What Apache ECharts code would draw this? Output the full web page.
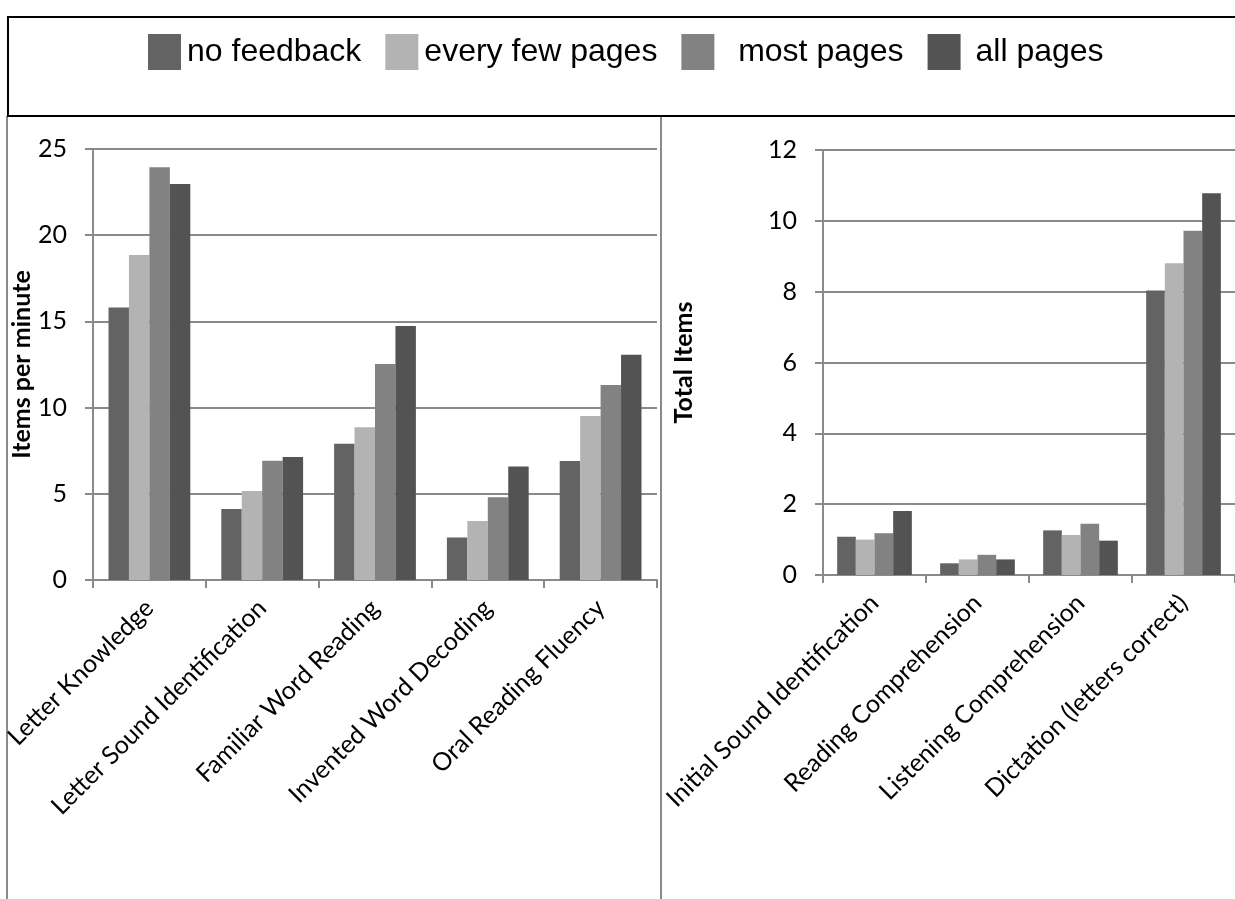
<!DOCTYPE html>
<html>
<head>
<meta charset="utf-8">
<script src="https://cdn.jsdelivr.net/npm/echarts@6/dist/echarts.min.js"></script>
<style>
html, body { margin: 0; padding: 0; background: #ffffff; }
#chart { width: 1235px; height: 899px; }
</style>
</head>
<body>
<div id="chart"></div>
<script>
// ---- data ----
const seriesNames = ['no feedback', 'every few pages', 'most pages', 'all pages'];

const leftCategories = ['Letter Knowledge', 'Letter Sound Identification', 'Familiar Word Reading', 'Invented Word Decoding', 'Oral Reading Fluency'];
const leftNoFeedback = [15.8, 4.12, 7.91, 2.47, 6.9];
const leftEveryFew   = [18.85, 5.16, 8.86, 3.42, 9.51];
const leftMostPages  = [23.94, 6.92, 12.53, 4.8, 11.31];
const leftAllPages   = [22.97, 7.13, 14.73, 6.59, 13.07];

const rightCategories = ['Initial Sound Identification', 'Reading Comprehension', 'Listening Comprehension', 'Dictation (letters correct)'];
const rightNoFeedback = [1.08, 0.33, 1.26, 8.03];
const rightEveryFew   = [1.0, 0.44, 1.13, 8.8];
const rightMostPages  = [1.18, 0.57, 1.45, 9.72];
const rightAllPages   = [1.81, 0.44, 0.97, 10.78];

const leftYTitle = 'Items per minute';
const rightYTitle = 'Total Items';

// ---- styling ----
const colors = ['#636363', '#b3b3b3', '#828282', '#535353'];
const axisGray = '#8a8a8a';
const axisFont = 'Lato, "Open Sans", sans-serif';

const chart = echarts.init(document.getElementById('chart'), null, { renderer: 'canvas' });

function catAxis(gridIndex, cats) {
  return {
    type: 'category', gridIndex: gridIndex, data: cats,
    axisLine: { show: true, lineStyle: { color: axisGray, width: 2 } },
    axisTick: { show: true, alignWithLabel: false, length: 8, lineStyle: { color: axisGray, width: 2 } },
    axisLabel: { rotate: 45, interval: 0, margin: 24, color: '#000', fontFamily: axisFont, fontSize: 25 },
    splitLine: { show: false }
  };
}
function valAxis(gridIndex, max, interval, name, gap) {
  return {
    type: 'value', gridIndex: gridIndex, min: 0, max: max, interval: interval,
    name: name, nameLocation: 'middle', nameRotate: 90, nameGap: gap,
    nameTextStyle: { color: '#000', fontFamily: axisFont, fontSize: 25, fontWeight: 'bold' },
    axisLine: { show: true, lineStyle: { color: axisGray, width: 2 } },
    axisTick: { show: true, length: 8, lineStyle: { color: axisGray, width: 2 } },
    axisLabel: { margin: 26, color: '#000', fontFamily: axisFont, fontSize: 25 },
    splitLine: { show: true, lineStyle: { color: axisGray, width: 2 } }
  };
}
function bar(name, idx, gridIdx, data) {
  return {
    name: name, type: 'bar', xAxisIndex: gridIdx, yAxisIndex: gridIdx, data: data,
    barGap: '0%', barCategoryGap: '27.5%',
    itemStyle: { color: colors[idx] },
    emphasis: { disabled: true },
    animation: false
  };
}

const option = {
  animation: false,
  legend: {
    data: seriesNames,
    top: 29, left: 143,
    itemWidth: 33, itemHeight: 36, itemGap: 24,
    icon: 'rect',
    formatter: function (name) {
      if (name === 'most pages') return '  ' + name;
      if (name === 'all pages') return ' ' + name;
      return name;
    },
    textStyle: { color: '#000', fontFamily: '"Liberation Sans", Arial, sans-serif', fontSize: 32, padding: [4, 0, 0, 1] },
    selectedMode: false
  },
  grid: [
    { left: 93, width: 564, top: 149, bottom: 319, containLabel: false },
    { left: 823, width: 420, top: 150, bottom: 324, containLabel: false }
  ],
  xAxis: [catAxis(0, leftCategories), catAxis(1, rightCategories)],
  yAxis: [valAxis(0, 25, 5, leftYTitle, 41), valAxis(1, 12, 2, rightYTitle, 127)],
  series: [
    bar(seriesNames[0], 0, 0, leftNoFeedback),
    bar(seriesNames[1], 1, 0, leftEveryFew),
    bar(seriesNames[2], 2, 0, leftMostPages),
    bar(seriesNames[3], 3, 0, leftAllPages),
    bar(seriesNames[0], 0, 1, rightNoFeedback),
    bar(seriesNames[1], 1, 1, rightEveryFew),
    bar(seriesNames[2], 2, 1, rightMostPages),
    bar(seriesNames[3], 3, 1, rightAllPages)
  ],
  graphic: [
    { type: 'line', silent: true, shape: { x1: 7, y1: 116, x2: 7, y2: 899 }, style: { stroke: axisGray, lineWidth: 2 } },
    { type: 'line', silent: true, shape: { x1: 661, y1: 116, x2: 661, y2: 899 }, style: { stroke: axisGray, lineWidth: 2 } },
    { type: 'rect', silent: true, shape: { x: 8, y: 17, width: 1250, height: 99 }, style: { fill: 'none', stroke: '#000', lineWidth: 2 } }
  ]
};
chart.setOption(option);
</script>
</body>
</html>
